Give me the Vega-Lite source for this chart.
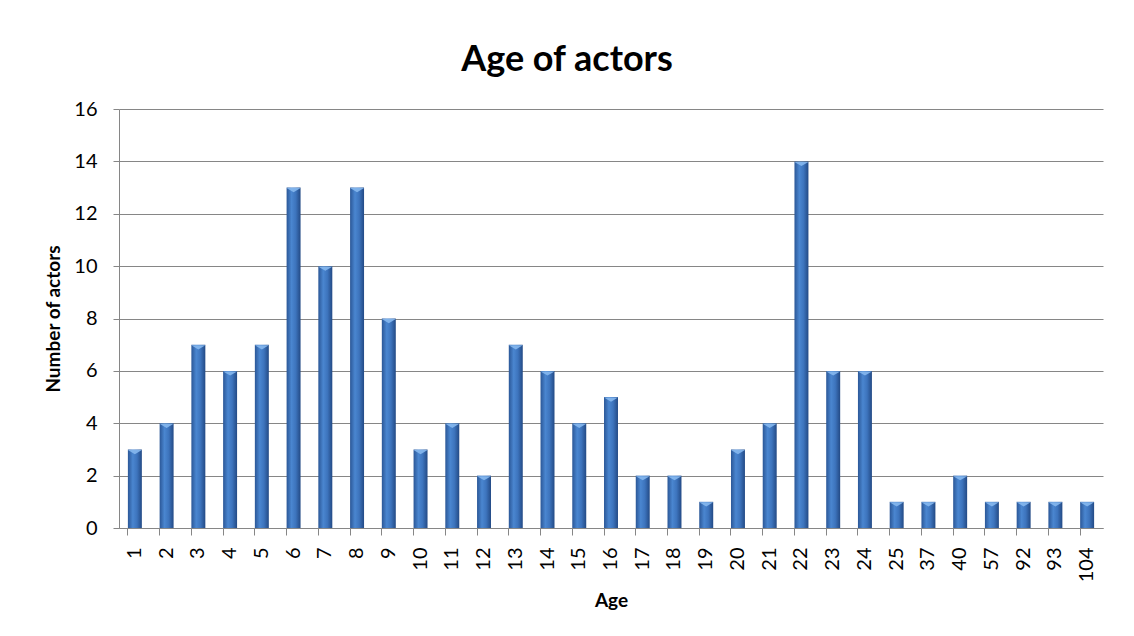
{
  "$schema": "https://vega.github.io/schema/vega-lite/v6.json",
  "autosize": "none",
  "width": 984,
  "height": 419,
  "padding": {"left": 119, "top": 109, "right": 31, "bottom": 108},
  "background": "white",
  "title": {
    "text": "Age of actors",
    "font": "Lato",
    "fontSize": 36,
    "fontWeight": "bold",
    "color": "#000000",
    "dx": -44,
    "offset": 20
  },
  "data": {
    "values": [
      {"age": 1, "count": 3}, {"age": 2, "count": 4}, {"age": 3, "count": 7},
      {"age": 4, "count": 6}, {"age": 5, "count": 7}, {"age": 6, "count": 13},
      {"age": 7, "count": 10}, {"age": 8, "count": 13}, {"age": 9, "count": 8},
      {"age": 10, "count": 3}, {"age": 11, "count": 4}, {"age": 12, "count": 2},
      {"age": 13, "count": 7}, {"age": 14, "count": 6}, {"age": 15, "count": 4},
      {"age": 16, "count": 5}, {"age": 17, "count": 2}, {"age": 18, "count": 2},
      {"age": 19, "count": 1}, {"age": 20, "count": 3}, {"age": 21, "count": 4},
      {"age": 22, "count": 14}, {"age": 23, "count": 6}, {"age": 24, "count": 6},
      {"age": 25, "count": 1}, {"age": 37, "count": 1}, {"age": 40, "count": 2},
      {"age": 57, "count": 1}, {"age": 92, "count": 1}, {"age": 93, "count": 1},
      {"age": 104, "count": 1}
    ]
  },
  "encoding": {
    "x": {
      "field": "age",
      "type": "ordinal",
      "sort": "ascending",
      "scale": {"paddingInner": 0.56, "paddingOuter": 0.28},
      "axis": {
        "title": "Age",
        "titleFont": "Lato",
        "titleFontSize": 19,
        "titleFontWeight": "bold",
        "titleColor": "#000000",
        "titlePadding": 10,
        "labelFont": "Lato",
        "labelFontSize": 20,
        "labelColor": "#000000",
        "labelAngle": -90,
        "labelPadding": 12,
        "bandPosition": 0,
        "tickColor": "#868686",
        "tickSize": 7,
        "domainColor": "#868686",
        "grid": false
      }
    },
    "y": {
      "field": "count",
      "type": "quantitative",
      "scale": {"domain": [0, 16]},
      "axis": {
        "title": "Number of actors",
        "titleFont": "Lato",
        "titleFontSize": 19,
        "titleFontWeight": "bold",
        "titleColor": "#000000",
        "titlePadding": 10,
        "labelFont": "Lato",
        "labelFontSize": 20,
        "labelColor": "#000000",
        "labelPadding": 16,
        "values": [0, 2, 4, 6, 8, 10, 12, 14, 16],
        "tickColor": "#868686",
        "tickSize": 6,
        "domainColor": "#868686",
        "grid": true,
        "gridColor": "#868686",
        "gridWidth": 1
      }
    }
  },
  "layer": [
    {
      "mark": {
        "type": "bar",
        "color": {
          "gradient": "linear",
          "x1": 0, "x2": 1, "y1": 0, "y2": 0,
          "stops": [
            {"offset": 0, "color": "#2b5797"},
            {"offset": 0.35, "color": "#4a86d0"},
            {"offset": 0.65, "color": "#3d74bd"},
            {"offset": 1, "color": "#234a85"}
          ]
        }
      }
    },
    {
      "mark": {
        "type": "point",
        "shape": "M -1 0 L 1 0 L 0 0.6 Z",
        "filled": true,
        "size": 196,
        "color": "#86b8ee",
        "opacity": 0.9,
        "strokeWidth": 0,
        "yOffset": 0.5
      }
    }
  ],
  "config": {
    "view": {"stroke": null}
  }
}
